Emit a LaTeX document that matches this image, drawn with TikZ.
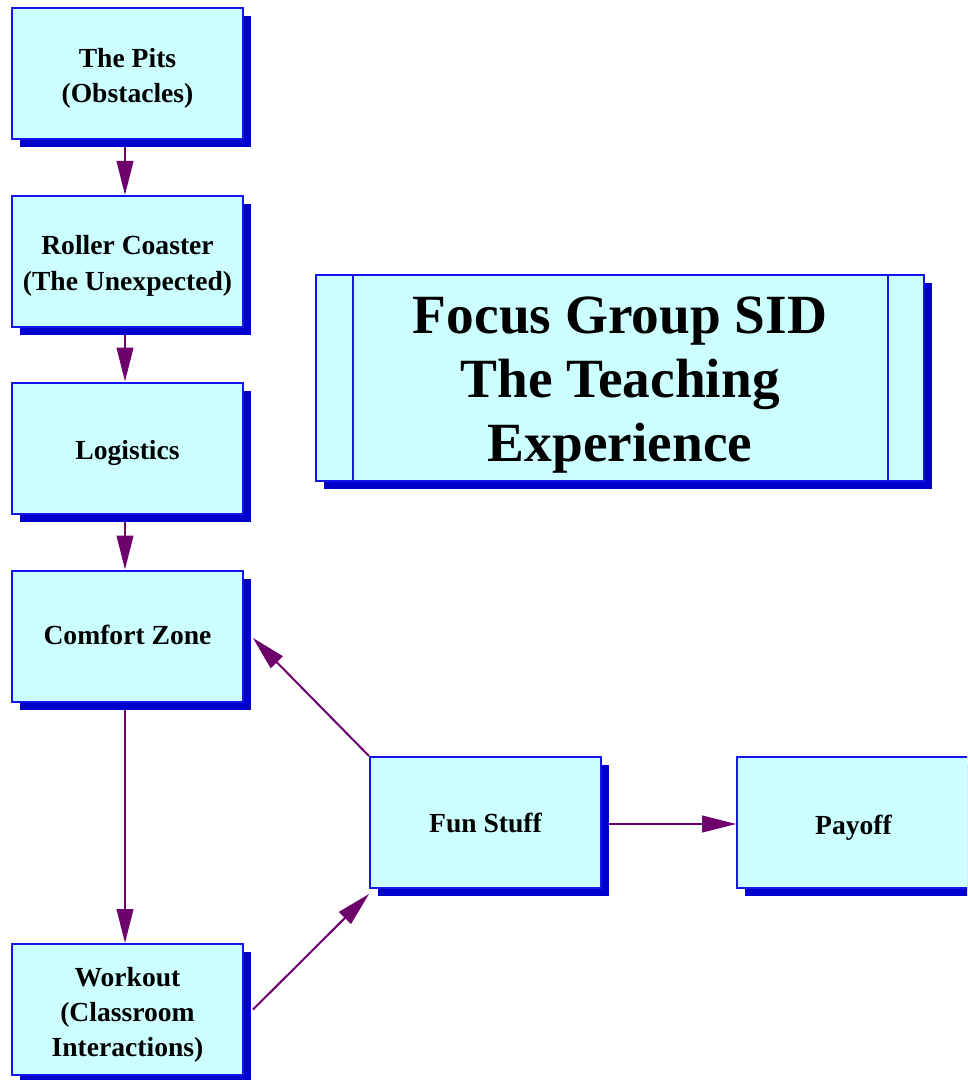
\documentclass[tikz,border=0pt]{standalone}
\usepackage{fontspec}
\setmainfont{Liberation Serif}
\usetikzlibrary{arrows.meta,shadows,calc}
\definecolor{boxfill}{RGB}{204,255,255}
\definecolor{boxline}{RGB}{20,20,235}
\definecolor{boxshade}{RGB}{0,0,204}
\definecolor{linkcol}{RGB}{110,0,110}
\pgfdeclarelayer{back}
\pgfsetlayers{back,main}
% centred lines of text, set a little below the node centre
\newcommand\lowtext[2]{\raisebox{-#1}[\height][\depth]{\begin{tabular}{@{}c@{}}#2\end{tabular}}}
\begin{document}
\begin{tikzpicture}[x=0.75pt,y=-0.75pt,
  card/.style={draw=boxline, line width=1.5pt, fill=boxfill, inner sep=0pt,
    drop shadow={shadow xshift=6pt, shadow yshift=-6pt, fill=boxshade, opacity=1}},
  stage/.style={card, minimum width=173.25pt, minimum height=98.25pt,
    font=\fontsize{20.7}{26.3}\selectfont\bfseries},
  headline/.style={card, minimum width=456pt, minimum height=154.5pt,
    font=\fontsize{41.5}{48}\selectfont\bfseries},
  link/.style={draw=linkcol, line width=1.5pt, -{Triangle[length=25.5pt,width=12.5pt]}}]
\clip (0,0) rectangle (967,1080);
\useasboundingbox (0,0) rectangle (967,1080);

% stages down the left side
\node[stage] (pits)    at (127.5,74)    {\lowtext{3pt}{The Pits\\(Obstacles)}};
\node[stage] (coaster) at (127.5,261.5) {\lowtext{3pt}{Roller Coaster\\(The Unexpected)}};
\node[stage] (logist)  at (127.5,448)   {\lowtext{3pt}{Logistics}};
\node[stage] (comfort) at (127.5,636)   {\lowtext{1pt}{Comfort Zone}};
\node[stage] (workout) at (127.5,1009.5){\lowtext{3.5pt}{Workout\\(Classroom\\Interactions)}};

% stages on the right; the last one runs on past the right edge
\node[stage] (fun)     at (485.5,822.5) {\lowtext{2pt}{Fun Stuff}};
\node[stage, minimum width=200pt] (payoff) at (870.5,822.5)
  {\hspace*{-25.5pt}\lowtext{4pt}{Payoff}};

% title panel with its two inner rules
\node[headline] (title) at (620,378) {\lowtext{5pt}{Focus Group SID\\The Teaching\\Experience}};
\draw[draw=boxline, line width=1.5pt]
  ($(title.north west)+(38,0)$) -- ($(title.south west)+(38,0)$);
\draw[draw=boxline, line width=1.5pt]
  ($(title.north east)+(-37,0)$) -- ($(title.south east)+(-37,0)$);

% connectors, kept beneath the boxes and their shadows
\begin{pgfonlayer}{back}
\draw[link] ($(pits.south)+(-2.5,0)$) -- ($(coaster.north)+(-2.5,0)$);
\draw[link] ($(coaster.south)+(-2.5,0)$) -- ($(logist.north)+(-2.5,0)$);
\draw[link] ($(logist.south)+(-2.5,0)$) -- ($(comfort.north)+(-2.5,0)$);
\draw[link] ($(comfort.south)+(-2.5,0)$) -- ($(workout.north)+(-2.5,0)$);
\draw[link] (fun.north west) -- ($(comfort.east)+(9,2)$);
\draw[link] ($(workout.east)+(9,0)$) -- ($(fun.south west)+(0,5)$);
\draw[link] ($(fun.east)+(0,1.5)$) -- ($(payoff.west)+(0,1.5)$);
\end{pgfonlayer}
\end{tikzpicture}
\end{document}
